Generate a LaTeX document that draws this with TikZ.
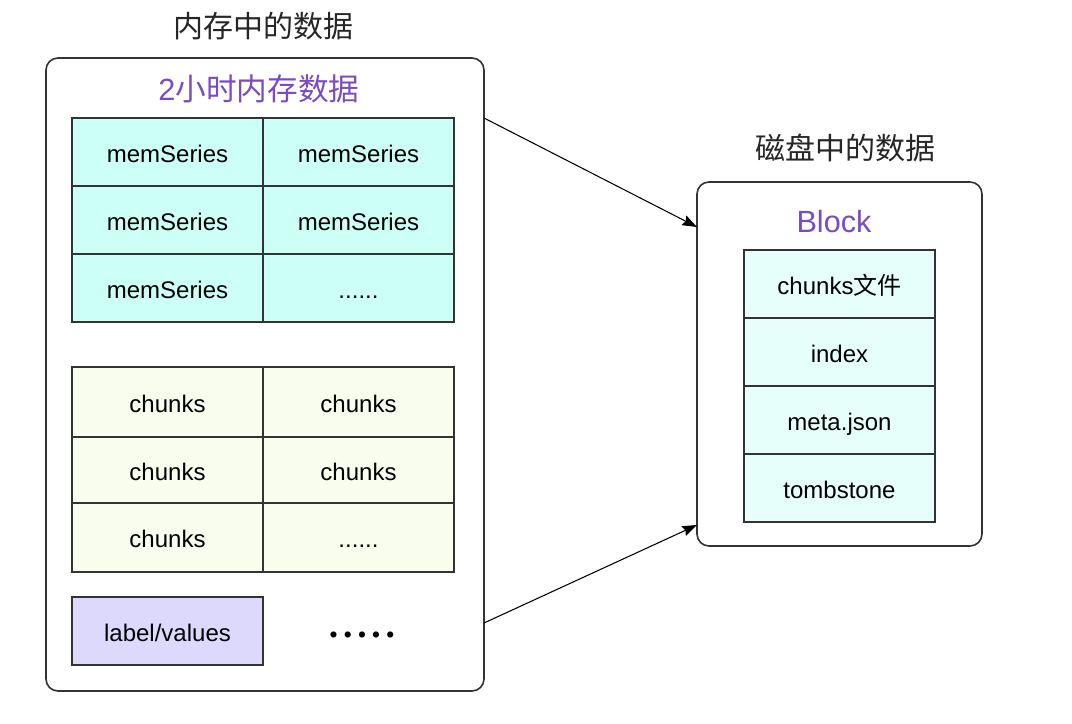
\documentclass[tikz,border=0pt]{standalone}
\usepackage{fontspec}
\setmainfont{Liberation Sans}
\newfontfamily\cjk{Noto Sans CJK SC}
\usetikzlibrary{arrows.meta}
\definecolor{purp}{HTML}{7B4BC2}
\definecolor{memfill}{HTML}{CCFFF5}
\definecolor{chfill}{HTML}{F8FDEE}
\definecolor{lvfill}{HTML}{DCD9FC}
\definecolor{blkfill}{HTML}{E6FFFA}
\definecolor{edge}{HTML}{333333}
\tikzset{
  outerbox/.style={draw=edge, line width=1.2pt, rounded corners=9pt, fill=white, inner sep=0pt},
  cell/.style={draw=edge, line width=1.1pt, minimum width=143.25pt, inner sep=0pt, text height=16pt, text depth=1pt, font=\fontsize{18}{20}\selectfont, text=black},
  mems/.style={cell, fill=memfill, minimum height=51pt},
  chk/.style={cell, fill=chfill},
  blk/.style={cell, fill=blkfill, minimum height=51pt},
  ttl/.style={font=\cjk\fontsize{22.5}{26}\selectfont, text=black!85},
  sub/.style={font=\fontsize{23}{26}\selectfont, text=purp},
  arr/.style={-{Stealth[length=11pt,width=8pt,inset=1.5pt]}, line width=0.8pt, black}
}
\begin{document}
\begin{tikzpicture}[x=0.75pt,y=-0.75pt]
\useasboundingbox (0,0) rectangle (1072,724);
% left outer box
\node[outerbox, minimum width=328.5pt, minimum height=474.75pt] (mem) at (265,374.5) {};
\node[ttl] (memtitle) at (263,26) {内存中的数据};
\node[sub] (memsub) at (259,89) {2{\cjk 小时内存数据}};
% memSeries grid
\node[mems] (m11) at (167.5,152) {memSeries};
\node[mems] (m12) at (358.5,152) {memSeries};
\node[mems] (m21) at (167.5,220) {memSeries};
\node[mems] (m22) at (358.5,220) {memSeries};
\node[mems] (m31) at (167.5,288) {memSeries};
\node[mems] (m32) at (358.5,288) {......};
% chunks grid
\node[chk, minimum height=52.5pt] (c11) at (167.5,402) {chunks};
\node[chk, minimum height=52.5pt] (c12) at (358.5,402) {chunks};
\node[chk, minimum height=49.5pt] (c21) at (167.5,470) {chunks};
\node[chk, minimum height=49.5pt] (c22) at (358.5,470) {chunks};
\node[chk, minimum height=51.75pt] (c31) at (167.5,537.5) {chunks};
\node[chk, minimum height=51.75pt] (c32) at (358.5,537.5) {......};
% label/values
\node[cell, fill=lvfill, minimum height=51pt] (lv) at (167.5,631) {label/values};
\node[font=\fontsize{17}{20}\selectfont] (dots) at (362,637) {• • • • •};
% right outer box
\node[outerbox, minimum width=213.75pt, minimum height=273pt] (disk) at (839.5,364) {};
\node[ttl] (disktitle) at (845,148) {磁盘中的数据};
\node[sub] (blocktitle) at (834,222) {Block};
\node[blk] (b1) at (839.5,284) {chunks{\cjk 文件}};
\node[blk] (b2) at (839.5,352) {index};
\node[blk] (b3) at (839.5,420) {meta.json};
\node[blk] (b4) at (839.5,488) {tombstone};
% arrows
\coordinate (s1) at (484,118);
\coordinate (e1) at (697,227);
\coordinate (s2) at (484,623);
\coordinate (e2) at (697,525);
\draw[arr] (s1) -- (e1);
\draw[arr] (s2) -- (e2);
\end{tikzpicture}
\end{document}
